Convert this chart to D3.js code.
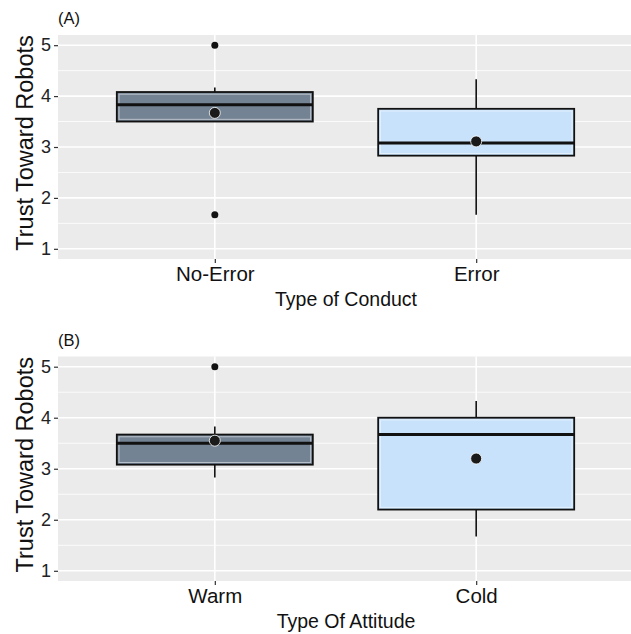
<!DOCTYPE html>
<html><head><meta charset="utf-8">
<script src="https://cdn.jsdelivr.net/npm/d3@7"></script>
<style>body{margin:0;background:#fff}svg{display:block;font-family:"Liberation Sans",Arial,sans-serif}</style>
</head><body><svg id="c" width="631" height="634"></svg>
<script>
const panelLabels = ["(A)", "(B)"];
const xTitles = ["Type of Conduct", "Type Of Attitude"];
const yTitle = "Trust Toward Robots";
const categoriesA = ["No-Error", "Error"];
const categoriesB = ["Warm", "Cold"];
const yTicks = [1, 2, 3, 4, 5];
// [min whisker, q1, median, q3, max whisker]
const statsA = [[3.5, 3.5, 3.83, 4.08, 4.17], [1.67, 2.83, 3.08, 3.75, 4.33]];
const statsB = [[2.83, 3.08, 3.5, 3.67, 3.83], [1.67, 2.2, 3.67, 4.0, 4.33]];
const meansA = [3.67, 3.11];
const meansB = [3.55, 3.2];
const outliersA = [[5, 1.67], []];
const outliersB = [[5], []];
const fills = ["#738394", "#c8e2fb"];

const svg = d3.select("#c");
const panels = [
  {top: 35, bottom: 259, label: panelLabels[0], cats: categoriesA, stats: statsA, means: meansA, outs: outliersA, xt: xTitles[0]},
  {top: 356.5, bottom: 581, label: panelLabels[1], cats: categoriesB, stats: statsB, means: meansB, outs: outliersB, xt: xTitles[1]}
];
const left = 58, right = 633;

panels.forEach(p => {
  const g = svg.append("g");
  const y = d3.scaleLinear().domain([0.8, 5.2]).range([p.bottom, p.top]);
  const x = d3.scalePoint().domain(p.cats).range([left, right]).padding(0.6);
  const step = x.step();
  const bw = step * 0.75;
  g.append("rect").attr("x", left).attr("y", p.top).attr("width", right - left).attr("height", p.bottom - p.top).attr("fill", "#ebebeb");
  const minor = d3.range(0.5, 5.6, 1).filter(v => y(v) >= p.top && y(v) <= p.bottom);
  g.selectAll(".mn").data(minor).join("line").attr("x1", left).attr("x2", right)
    .attr("y1", d => y(d)).attr("y2", d => y(d)).attr("stroke", "#fff").attr("stroke-width", 0.8);
  g.selectAll(".mj").data(yTicks).join("line").attr("x1", left).attr("x2", right)
    .attr("y1", d => y(d)).attr("y2", d => y(d)).attr("stroke", "#fff").attr("stroke-width", 1.6);
  g.selectAll(".vx").data(p.cats).join("line").attr("x1", d => x(d)).attr("x2", d => x(d))
    .attr("y1", p.top).attr("y2", p.bottom).attr("stroke", "#fff").attr("stroke-width", 1.6);

  p.cats.forEach((c, i) => {
    const s = p.stats[i], cx = x(c);
    g.append("line").attr("x1", cx).attr("x2", cx).attr("y1", y(s[4])).attr("y2", y(s[3])).attr("stroke", "#111").attr("stroke-width", 1.6);
    g.append("line").attr("x1", cx).attr("x2", cx).attr("y1", y(s[1])).attr("y2", y(s[0])).attr("stroke", "#111").attr("stroke-width", 1.6);
    g.append("rect").attr("x", cx - bw / 2).attr("y", y(s[3])).attr("width", bw).attr("height", y(s[1]) - y(s[3]))
      .attr("fill", fills[i]).attr("stroke", "#111").attr("stroke-width", 1.8);
    g.append("rect").attr("x", cx - bw / 2 + 2.2).attr("y", y(s[3]) + 2.2).attr("width", bw - 4.4).attr("height", y(s[1]) - y(s[3]) - 4.4)
      .attr("fill", "none").attr("stroke", "#fff").attr("stroke-opacity", 0.5).attr("stroke-width", 1);
    g.append("line").attr("x1", cx - bw / 2).attr("x2", cx + bw / 2).attr("y1", y(s[2])).attr("y2", y(s[2])).attr("stroke", "#111").attr("stroke-width", 3);
    g.selectAll(null).data(p.outs[i]).join("circle").attr("cx", cx).attr("cy", d => y(d)).attr("r", 3.5).attr("fill", "#111");
    g.append("circle").attr("cx", cx).attr("cy", y(p.means[i])).attr("r", 5.5).attr("fill", "#1a1a1a").attr("stroke", "#fff").attr("stroke-opacity", 0.8).attr("stroke-width", 1);
  });

  const ya = g.append("g").attr("transform", `translate(${left},0)`)
    .call(d3.axisLeft(y).tickValues(yTicks).tickSize(4).tickPadding(3).tickFormat(d3.format("d")));
  ya.select(".domain").remove();
  ya.selectAll("line").attr("stroke", "#333").attr("stroke-width", 1.2);
  ya.selectAll("text").attr("font-size", 18).attr("fill", "#222");

  const xa = g.append("g").attr("transform", `translate(0,${p.bottom})`)
    .call(d3.axisBottom(x).tickSize(4).tickPadding(3));
  xa.select(".domain").remove();
  xa.selectAll("line").attr("stroke", "#333").attr("stroke-width", 1.2);
  xa.selectAll("text").attr("font-size", 20.5).attr("fill", "#111");

  g.append("text").attr("x", 346).attr("y", p.bottom + 47).attr("text-anchor", "middle")
    .attr("font-size", 19.5).attr("fill", "#111").text(p.xt);
  g.append("text").attr("transform", `translate(33,${(p.top + p.bottom) / 2 - 4}) rotate(-90)`).attr("text-anchor", "middle")
    .attr("font-size", 23.5).attr("fill", "#111").text(yTitle);
  g.append("text").attr("x", 58).attr("y", p.top - 11).attr("font-size", 16.5).attr("fill", "#111").text(p.label);
});
</script></body></html>
